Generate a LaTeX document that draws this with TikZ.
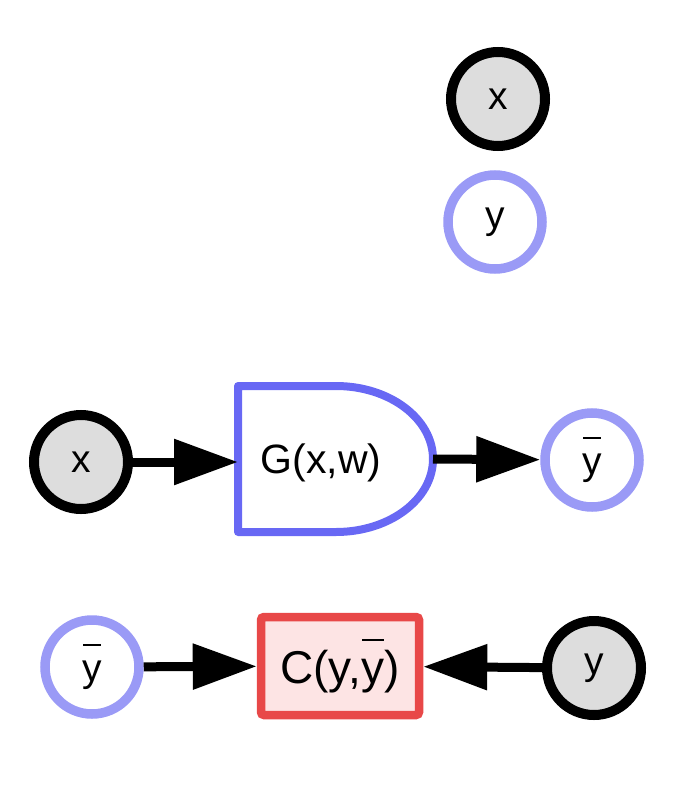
\documentclass[tikz,border=0pt]{standalone}
\usepackage{fontspec}
\setmainfont{Liberation Sans}
\usetikzlibrary{arrows.meta}
\definecolor{obsgray}{HTML}{DDDDDD}
\definecolor{lightblue}{HTML}{9A9AF6}
\definecolor{gblue}{HTML}{6868F4}
\definecolor{cred}{HTML}{E84848}
\definecolor{cfill}{HTML}{FDE4E4}
\newcommand\ybarsym{\leavevmode\rlap{\hspace{0.02em}\rule[0.92em]{0.47em}{0.05em}}y}
\tikzset{
  obs/.style={circle,draw=black,fill=obsgray,line width=10pt,minimum size=94pt,inner sep=0pt,font=\fontsize{39}{43}\selectfont},
  lat/.style={circle,draw=lightblue,fill=white,line width=9.5pt,minimum size=94pt,inner sep=0pt,font=\fontsize{39}{43}\selectfont},
  conn/.style={line width=9pt,-{Triangle[length=64pt,width=44pt]}},
}
\begin{document}
\begin{tikzpicture}[x=1pt,y=1pt]
\useasboundingbox (0,0) rectangle (694,-792);
% legend
\node[obs] (lx) at (498,-99) {x};
\node[lat] (ly) at (495,-222) {y};
% generator row
\node[obs] (x) at (81,-462) {x};
\draw[gblue,line width=8pt,line join=round] (238,-386) -- (336,-386)
  arc[start angle=90,end angle=-90,x radius=97,y radius=73] -- (238,-532) -- cycle;
\coordinate (Gin) at (238,-462);
\coordinate (Gout) at (433,-459);
\node[font=\fontsize{41}{45}\selectfont] (G) at (321,-463) {G(x,w)};
\node[lat] (yb1) at (592,-460) {\ybarsym};
\draw[conn] (x) -- (Gin);
\draw[conn] (Gout) -- (yb1);
% cost row
\node[lat] (yb2) at (92,-667) {\ybarsym};
\node[draw=cred,fill=cfill,line width=8.5pt,rounded corners=3pt,minimum width=158pt,minimum height=98pt,inner sep=0pt,font=\fontsize{46}{50}\selectfont] (C) at (340,-666) {C(y,\ybarsym)};
\node[obs] (y) at (594,-668) {y};
\draw[conn] (yb2) -- (C);
\draw[conn] (y) -- (C);
\end{tikzpicture}
\end{document}
